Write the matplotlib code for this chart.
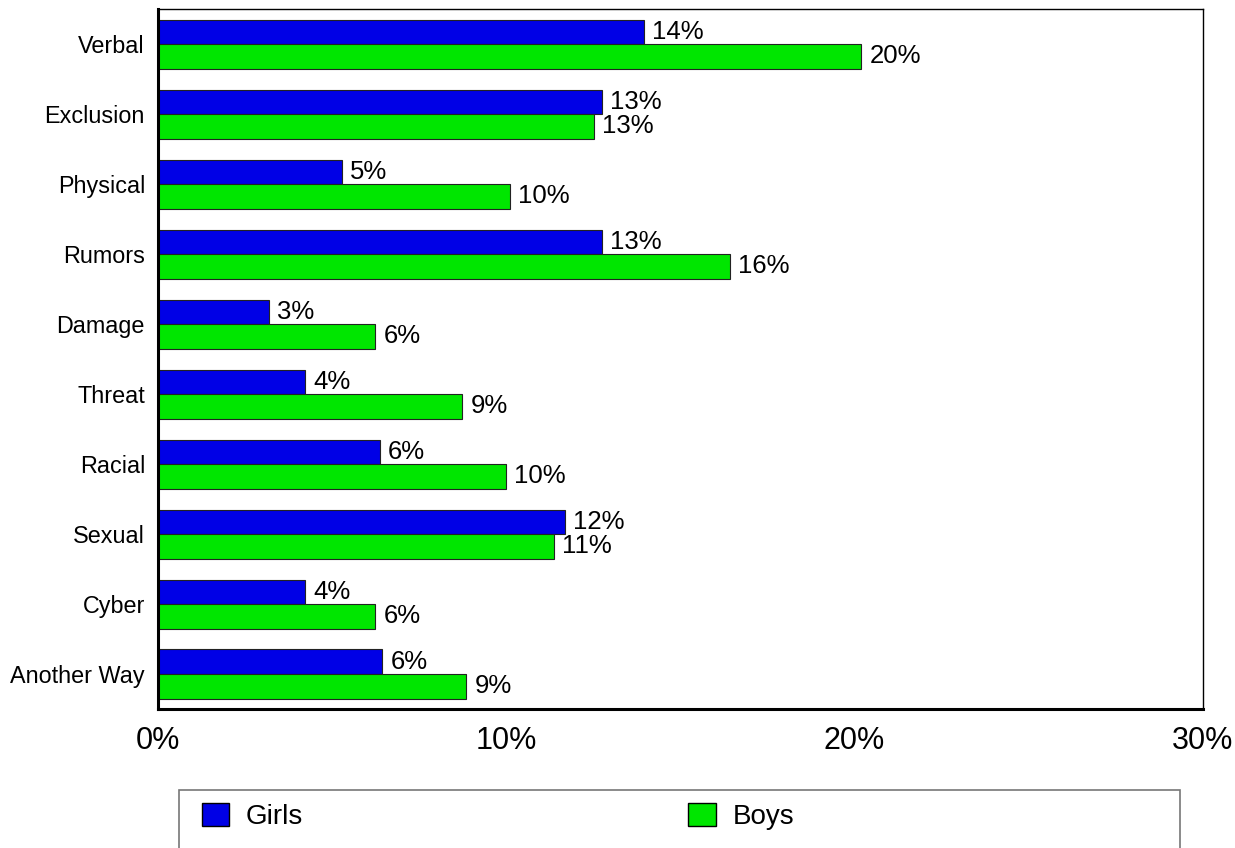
import matplotlib
matplotlib.use("Agg")
import matplotlib.pyplot as plt
import numpy as np
from matplotlib.patches import Patch, Rectangle

plt.rcParams["font.family"] = ["Liberation Sans", "DejaVu Sans"]

# Data (percent)
categories = ["Verbal", "Exclusion", "Physical", "Rumors", "Damage",
              "Threat", "Racial", "Sexual", "Cyber", "Another Way"]
girls = [13.96, 12.75, 5.29, 12.75, 3.2, 4.23, 6.38, 11.69, 4.23, 6.44]
boys = [20.2, 12.52, 10.11, 16.43, 6.24, 8.74, 10.0, 11.38, 6.24, 8.85]
x_ticks = [0, 10, 20, 30]

blue = "#0000E6"
green = "#00E600"

fig = plt.figure(figsize=(12.35, 8.48), dpi=100)
ax = fig.add_axes([157.5 / 1235, 1 - 709 / 848, (1203 - 157.5) / 1235, 700 / 848])

y = np.arange(len(categories))
h = 0.35
bars_g = ax.barh(y - h / 2, girls, height=h, color=blue, edgecolor="#222222", linewidth=0.8)
bars_b = ax.barh(y + h / 2, boys, height=h, color=green, edgecolor="#222222", linewidth=0.8)

for bars, vals in [(bars_g, girls), (bars_b, boys)]:
    for bar, v in zip(bars, vals):
        ax.annotate(f"{v:.0f}%", (bar.get_width(), bar.get_y() + bar.get_height() / 2),
                    xytext=(6, 0), textcoords="offset points",
                    ha="left", va="center", fontsize=18.5)

ax.set_ylim(len(categories) - 0.5, -0.5)
ax.set_xlim(0, 30)
ax.set_yticks(y)
ax.set_yticklabels(categories, fontsize=16.8)
ax.set_xticks(x_ticks)
ax.set_xticklabels([f"{t}%" for t in x_ticks], fontsize=22)
ax.tick_params(axis="both", length=0)
ax.tick_params(axis="x", pad=12)
ax.tick_params(axis="y", pad=9)

ax.spines["left"].set_linewidth(2.2)
ax.spines["bottom"].set_linewidth(2.2)
ax.spines["top"].set_linewidth(1.0)
ax.spines["right"].set_linewidth(1.0)

# Legend box (bottom edge runs off the figure, as in the reference)
fig.patches.append(Rectangle((179 / 1235, -0.05), (1180 - 179) / 1235, 0.05 + 1 - 790 / 848,
                             transform=fig.transFigure, fill=False,
                             edgecolor="#777777", linewidth=1.2))
handles = [Patch(facecolor=blue, edgecolor="black", label="Girls"),
           Patch(facecolor=green, edgecolor="black", label="Boys")]
fig.legend(handles=handles, loc="upper left", ncol=2, frameon=False,
           bbox_to_anchor=(196 / 1235, 1 - 797 / 848), borderaxespad=0, borderpad=0.2,
           fontsize=20, handlelength=1.0, handleheight=0.9,
           handletextpad=0.6, columnspacing=13.85)

fig.savefig("out.png", dpi=100)
